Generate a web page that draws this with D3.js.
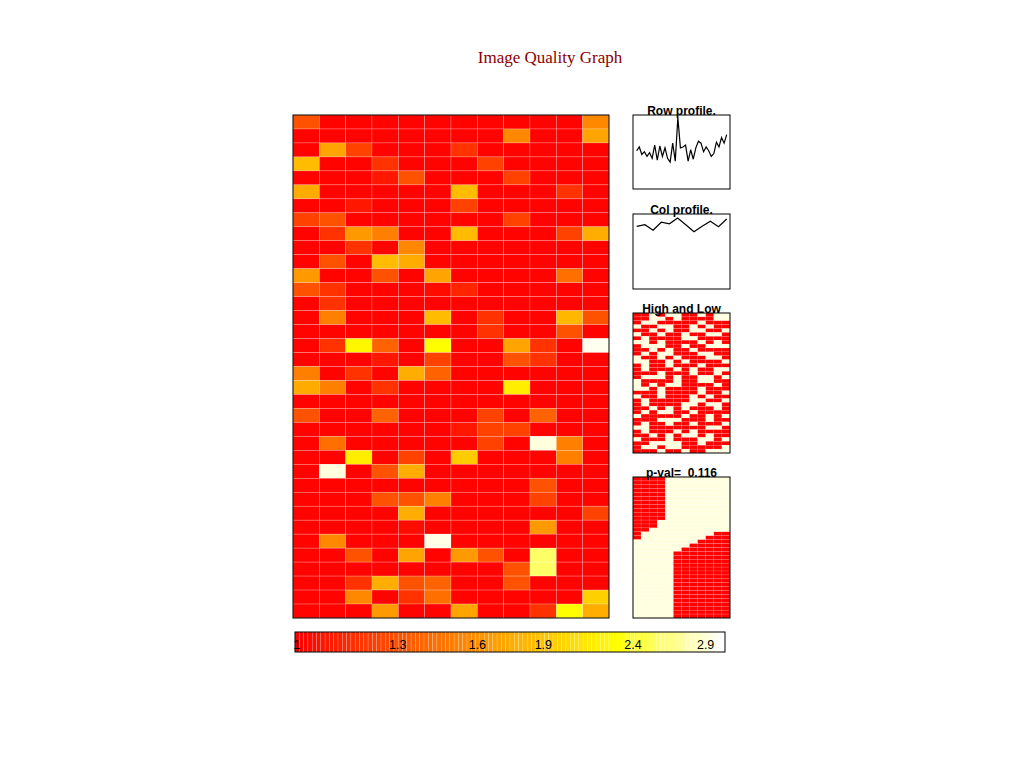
<!DOCTYPE html>
<html><head><meta charset="utf-8">
<script src="https://cdn.jsdelivr.net/npm/d3@7"></script>
<style>body{margin:0;background:#fff}</style>
</head><body><svg id="c" width="1024" height="768"></svg>
<script>
// ---- data ----
const nCols = 12;
const nRows = 36;
const vMax = 3.05;
const tickValues = [1, 1.3, 1.6, 1.9, 2.4, 2.9];
const tickLabels = ["1", "1.3", "1.6", "1.9", "2.4", "2.9"];

const values = [
 [1.31,1.01,1.01,1.01,1.01,1.01,1.01,1.01,1.01,1.01,1.01,1.56],
 [1.01,1.01,1.01,1.01,1.01,1.01,1.01,1.01,1.56,1.01,1.01,1.71],
 [1.01,1.71,1.24,1.01,1.01,1.01,1.18,1.01,1.01,1.01,1.01,1.01],
 [1.85,1.01,1.01,1.18,1.01,1.01,1.01,1.24,1.01,1.01,1.01,1.01],
 [1.01,1.01,1.01,1.08,1.31,1.01,1.01,1.01,1.24,1.01,1.01,1.01],
 [1.75,1.01,1.01,1.01,1.01,1.01,1.85,1.01,1.01,1.01,1.18,1.01],
 [1.01,1.01,1.08,1.01,1.01,1.01,1.24,1.01,1.01,1.01,1.01,1.01],
 [1.24,1.31,1.01,1.01,1.01,1.01,1.01,1.01,1.24,1.01,1.01,1.01],
 [1.01,1.18,1.65,1.52,1.01,1.01,1.85,1.01,1.01,1.01,1.24,1.77],
 [1.01,1.01,1.18,1.01,1.56,1.01,1.01,1.01,1.01,1.01,1.01,1.01],
 [1.01,1.31,1.01,1.85,1.75,1.01,1.01,1.01,1.01,1.01,1.01,1.01],
 [1.65,1.01,1.01,1.31,1.01,1.71,1.01,1.01,1.01,1.01,1.44,1.01],
 [1.31,1.18,1.01,1.01,1.01,1.04,1.13,1.01,1.01,1.01,1.01,1.01],
 [1.01,1.18,1.01,1.01,1.01,1.01,1.01,1.01,1.01,1.01,1.01,1.01],
 [1.01,1.52,1.01,1.01,1.01,1.85,1.01,1.18,1.01,1.01,1.82,1.31],
 [1.01,1.01,1.01,1.01,1.01,1.01,1.01,1.18,1.01,1.01,1.31,1.01],
 [1.01,1.18,2.25,1.38,1.01,2.30,1.01,1.01,1.71,1.18,1.01,3.00],
 [1.01,1.01,1.01,1.08,1.01,1.24,1.01,1.01,1.31,1.18,1.01,1.01],
 [1.52,1.01,1.18,1.01,1.77,1.38,1.01,1.01,1.01,1.01,1.01,1.01],
 [1.75,1.52,1.01,1.18,1.01,1.01,1.01,1.01,2.18,1.01,1.01,1.01],
 [1.01,1.01,1.01,1.01,1.01,1.01,1.01,1.01,1.01,1.01,1.01,1.01],
 [1.31,1.01,1.01,1.38,1.01,1.01,1.01,1.24,1.01,1.38,1.01,1.01],
 [1.01,1.01,1.01,1.01,1.01,1.01,1.08,1.24,1.24,1.01,1.01,1.01],
 [1.01,1.44,1.01,1.01,1.01,1.01,1.01,1.24,1.01,2.94,1.52,1.01],
 [1.01,1.01,2.18,1.01,1.24,1.01,1.95,1.01,1.01,1.01,1.52,1.01],
 [1.01,2.94,1.01,1.31,1.77,1.01,1.01,1.01,1.01,1.01,1.01,1.01],
 [1.01,1.01,1.01,1.01,1.01,1.01,1.01,1.01,1.01,1.31,1.01,1.01],
 [1.01,1.01,1.01,1.31,1.31,1.52,1.01,1.01,1.01,1.24,1.01,1.01],
 [1.01,1.01,1.01,1.01,1.77,1.01,1.01,1.01,1.01,1.01,1.01,1.24],
 [1.01,1.01,1.01,1.01,1.04,1.01,1.01,1.01,1.01,1.65,1.01,1.01],
 [1.01,1.56,1.01,1.01,1.01,2.97,1.01,1.01,1.01,1.01,1.01,1.01],
 [1.01,1.01,1.31,1.01,1.71,1.01,1.65,1.31,1.01,2.58,1.01,1.01],
 [1.01,1.01,1.01,1.01,1.01,1.01,1.01,1.01,1.31,2.58,1.01,1.01],
 [1.01,1.01,1.18,1.77,1.31,1.38,1.01,1.01,1.31,1.01,1.01,1.01],
 [1.01,1.01,1.56,1.01,1.18,1.44,1.01,1.01,1.01,1.01,1.01,1.98],
 [1.01,1.01,1.01,1.65,1.01,1.01,1.71,1.01,1.01,1.18,2.30,1.77]
];

const rowProfile = [1.16,1.20,1.12,1.15,1.10,1.14,1.08,1.22,1.06,1.21,1.10,1.19,
                    1.08,1.04,1.24,1.05,1.51,1.19,1.20,1.22,1.05,1.17,1.07,1.19,
                    1.26,1.24,1.15,1.20,1.16,1.10,1.13,1.25,1.20,1.30,1.24,1.33];
const colProfile = [1.185,1.200,1.148,1.223,1.209,1.263,1.200,1.135,1.185,1.232,1.181,1.253];

// H = high (cream), . = low (red)
const highLow = [
 "..H.HH..H.HH","..HH.H....HH",".HH.....H...","H..HH..H.H..","..H.H..HH..H","H..H..H..HH.",
 ".H....HH....","HH.H....H.H.",".HHH..H..HHH","..H.H..H....",".H.HH...HH..","H..H.H...HH.",
 "HH..H.H....H",".H..H...H...",".H...H.H..HH","...H...H..H.",".HHH.H..HH.H","H....H..HH..",
 "H.H.HH....H.","HH.H....H...","...H....H..H","H..H...H.H..",".H.....HH..H",".H....HH.HH.",
 "..H.H.H...H.",".H.HH..H....","H.....H..H.H","...HHH...H..",".H..H..H...H","HH.......HH.",
 ".H...H.H....","..H.H.HH.H..","H...H...HH.H","..HHHH..H...",".HH.HH.....H","...H..H..HHH"
];
// R = red region, . = cream region
const pvalMap = [
 "RRRR........","RRRR........","RRRR........","RRRR........","RRRR........","RRRR........",
 "RRRR........","RRRR........","RRRR........","RRRR........","RRRR........","RRR.........",
 "RRR.........","RR..........","R.........RR","R........RRR","........RRRR",".......RRRRR",
 "......RRRRRR",".....RRRRRRR",".....RRRRRRR",".....RRRRRRR",".....RRRRRRR",".....RRRRRRR",
 ".....RRRRRRR",".....RRRRRRR",".....RRRRRRR",".....RRRRRRR",".....RRRRRRR",".....RRRRRRR",
 ".....RRRRRRR",".....RRRRRRR",".....RRRRRRR",".....RRRRRRR",".....RRRRRRR",".....RRRRRRR"
];
const pvalText = "p-val=  0.116";

// ---- drawing ----
const svg = d3.select("#c");
svg.append("rect").attr("width",1024).attr("height",768).attr("fill","#fff");

function heat(t){
  t = Math.max(0, Math.min(1, t));
  if (t <= 0.75) { const g = Math.round(255 * t / 0.75); return `rgb(255,${g},0)`; }
  const s = 1 - (t - 0.75) / 0.25;
  return `rgb(255,255,${Math.round(255 * (1 - s))})`;
}
const tScale = d3.scaleLog().domain([1, vMax]).range([0, 1]).clamp(true);
const color = v => heat(tScale(v));
const cream = heat(0.97);
const red = heat(0);
const gridStroke = "rgba(255,255,255,0.35)";

svg.append("text").attr("x",550).attr("y",63).attr("text-anchor","middle")
  .attr("font-family","'Liberation Serif', 'Times New Roman', serif").attr("font-size",17)
  .attr("fill","#8b0000").text("Image Quality Graph");

// main heatmap
const x = d3.scaleBand().domain(d3.range(nCols)).range([293, 609]);
const y = d3.scaleBand().domain(d3.range(nRows)).range([115, 618]);
const cells = [];
values.forEach((row, r) => row.forEach((v, c) => cells.push({r, c, v})));
svg.append("g").selectAll("rect").data(cells).join("rect")
  .attr("x", d => x(d.c)).attr("y", d => y(d.r))
  .attr("width", x.bandwidth()).attr("height", y.bandwidth())
  .attr("fill", d => color(d.v))
  .attr("stroke", gridStroke).attr("stroke-width", 0.6);
svg.append("rect").attr("x",293).attr("y",115).attr("width",316).attr("height",503)
  .attr("fill","none").attr("stroke","#000").attr("stroke-width",1);

// side panels
const px0 = 633, px1 = 730;
const titleFont = "'Liberation Sans', Arial, Helvetica, sans-serif";
function panelTitle(txt, top){
  svg.append("text").attr("x", 681.5).attr("y", top - 0.5).attr("text-anchor","middle")
    .attr("font-family", titleFont).attr("font-weight","bold").attr("font-size",12)
    .style("white-space","pre").attr("fill","#000").text(txt);
}
function box(top, bottom){
  svg.append("rect").attr("x",px0).attr("y",top).attr("width",px1-px0).attr("height",bottom-top)
    .attr("fill","none").attr("stroke","#000").attr("stroke-width",1);
}

// row profile
{
  const top = 115, bottom = 189;
  const sx = d3.scalePoint().domain(d3.range(nRows)).range([636.7, 726.7]);
  const sy = d3.scaleLinear().domain([0.755, 1.538]).range([bottom, top]);
  svg.append("path").datum(rowProfile)
    .attr("d", d3.line().x((d,i)=>sx(i)).y(d=>sy(d)))
    .attr("fill","none").attr("stroke","#000").attr("stroke-width",1.2);
  box(top, bottom);
  panelTitle("Row profile.", top);
}
// col profile
{
  const top = 214, bottom = 289;
  const sx = d3.scalePoint().domain(d3.range(nCols)).range([636.7, 726.7]);
  const sy = d3.scaleLinear().domain([0.6, 1.3]).range([bottom, top]);
  svg.append("path").datum(colProfile)
    .attr("d", d3.line().x((d,i)=>sx(i)).y(d=>sy(d)))
    .attr("fill","none").attr("stroke","#000").attr("stroke-width",1.2);
  box(top, bottom);
  panelTitle("Col profile.", top);
}
// binary panels
function binaryPanel(rows, top, bottom, onChar, title){
  const sx = d3.scaleBand().domain(d3.range(nCols)).range([px0, px1]);
  const sy = d3.scaleBand().domain(d3.range(nRows)).range([top, bottom]);
  const data = [];
  rows.forEach((s, r) => s.split("").forEach((ch, c) => data.push({r, c, on: ch === onChar})));
  svg.append("g").selectAll("rect").data(data).join("rect")
    .attr("x", d => sx(d.c)).attr("y", d => sy(d.r))
    .attr("width", sx.bandwidth()).attr("height", sy.bandwidth())
    .attr("fill", d => d.on ? cream : red)
    .attr("stroke", "rgba(255,255,255,0.3)").attr("stroke-width", 0.4);
  box(top, bottom);
  panelTitle(title, top);
}
binaryPanel(highLow, 313, 453, "H", "High and Low");
binaryPanel(pvalMap.map(s => s.replace(/R/g,"x").replace(/\./g,"H").replace(/x/g,".")), 477, 618, "H", pvalText);

// colour bar
{
  const nStripes = 100;
  const bx = d3.scaleBand().domain(d3.range(nStripes)).range([295, 725]);
  svg.append("g").selectAll("rect").data(d3.range(nStripes)).join("rect")
    .attr("x", d => bx(d)).attr("y", 632).attr("width", bx.bandwidth()).attr("height", 20)
    .attr("fill", d => heat(d / (nStripes - 1)))
    .attr("stroke", "rgba(255,255,255,0.35)").attr("stroke-width", 0.5);
  svg.append("rect").attr("x",295).attr("y",632).attr("width",430).attr("height",20)
    .attr("fill","none").attr("stroke","#000").attr("stroke-width",1);
  const tx = d3.scaleLog().domain([1, vMax]).range([297, 725]);
  svg.append("g").selectAll("text").data(tickValues).join("text")
    .attr("x", d => tx(d)).attr("y", 649).attr("text-anchor","middle")
    .attr("font-family", titleFont).attr("font-size", 12.5).attr("fill","#000")
    .text((d,i) => tickLabels[i]);
}
</script></body></html>
